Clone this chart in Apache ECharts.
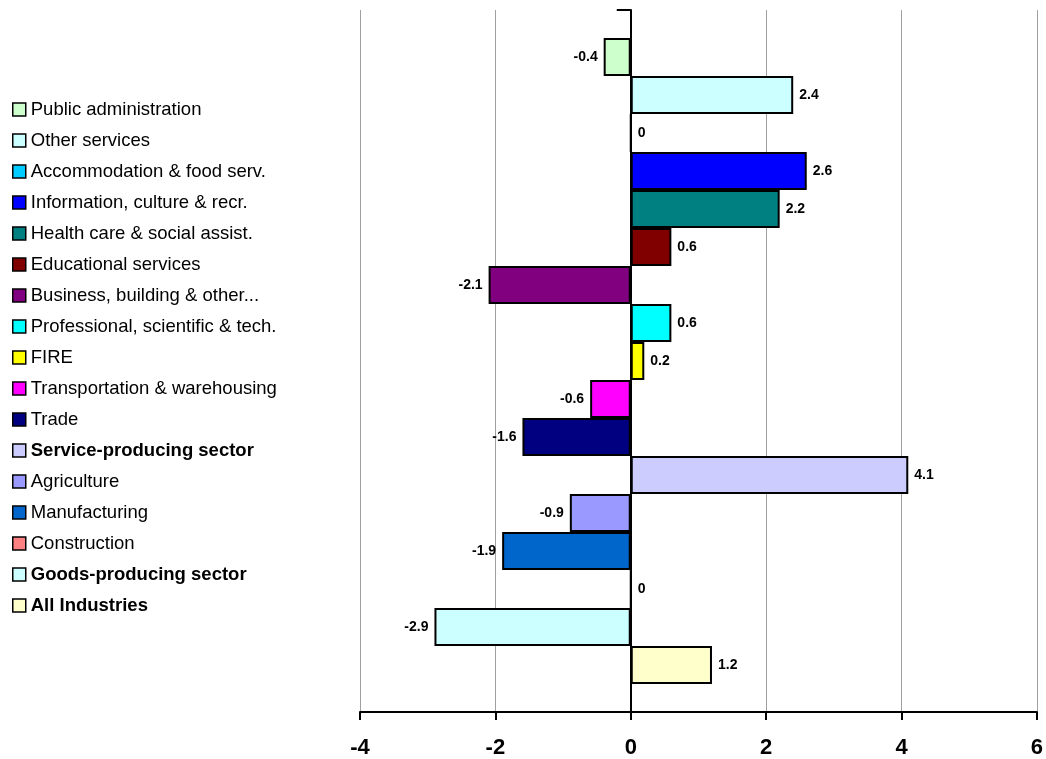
<!DOCTYPE html>
<html>
<head>
<meta charset="utf-8">
<script src="https://cdn.jsdelivr.net/npm/echarts@6/dist/echarts.min.js"></script>
<style>
  html, body { margin: 0; padding: 0; background: #ffffff; }
  #chart { width: 1046px; height: 759px; }
</style>
</head>
<body>
<div id="chart"></div>
<script>
// Employment change by industry (%), one bar per industry
const industries = [
  'Public administration',
  'Other services',
  'Accommodation & food serv.',
  'Information, culture & recr.',
  'Health care & social assist.',
  'Educational services',
  'Business, building & other...',
  'Professional, scientific & tech.',
  'FIRE',
  'Transportation & warehousing',
  'Trade',
  'Service-producing sector',
  'Agriculture',
  'Manufacturing',
  'Construction',
  'Goods-producing sector',
  'All Industries'
];
const changes = [-0.4, 2.4, 0, 2.6, 2.2, 0.6, -2.1, 0.6, 0.2, -0.6, -1.6, 4.1, -0.9, -1.9, 0, -2.9, 1.2];
const colors = [
  '#CCFFCC', '#CCFFFF', '#00CCFF', '#0000FF', '#008080', '#800000', '#800080',
  '#00FFFF', '#FFFF00', '#FF00FF', '#000080', '#CCCCFF', '#9999FF', '#0066CC',
  '#FF8080', '#CCFFFF', '#FFFFCC'
];
const boldNames = ['Service-producing sector', 'Goods-producing sector', 'All Industries'];
const xTicks = { min: -4, max: 6, interval: 2 };

const FONT = 'Arial, "Liberation Sans", sans-serif';

const series = industries.map((name, i) => ({
  name: name,
  type: 'bar',
  data: [changes[i]],
  barGap: '0%',
  barCategoryGap: '8%',
  itemStyle: { color: colors[i], borderColor: '#000000', borderWidth: 2 },
  label: {
    show: true,
    position: changes[i] < 0 ? 'left' : 'right',
    distance: 6,
    color: '#000000',
    fontFamily: FONT,
    fontWeight: 'bold',
    fontSize: 14,
    formatter: p => String(p.value)
  }
}));

const chart = echarts.init(document.getElementById('chart'), null, { renderer: 'canvas' });
chart.setOption({
  animation: false,
  backgroundColor: '#ffffff',
  color: colors,
  legend: {
    orient: 'vertical',
    left: 12,
    top: 100,
    padding: 0,
    icon: 'rect',
    itemWidth: 13,
    itemHeight: 13,
    itemGap: 12,
    selectedMode: false,
    itemStyle: { borderColor: '#000000', borderWidth: 1.5 },
    textStyle: { fontFamily: FONT, fontSize: 18.5, color: '#000000', lineHeight: 19 },
    data: industries.map(n => boldNames.includes(n)
      ? { name: n, textStyle: { fontWeight: 'bold' } }
      : { name: n })
  },
  grid: { left: 360, right: 9, top: 10, bottom: 45, containLabel: false },
  xAxis: {
    type: 'value',
    min: xTicks.min,
    max: xTicks.max,
    interval: xTicks.interval,
    axisLine: { show: true, lineStyle: { color: '#000000', width: 2 } },
    axisTick: { show: true, length: 8, lineStyle: { color: '#000000', width: 2 } },
    axisLabel: {
      margin: 25,
      fontFamily: FONT,
      fontWeight: 'bold',
      fontSize: 22,
      color: '#000000'
    },
    splitLine: { show: true, lineStyle: { color: '#A0A0A0', width: 1 } }
  },
  yAxis: {
    type: 'category',
    data: [''],
    inverse: true,
    axisLine: { show: true, onZero: true, lineStyle: { color: '#000000', width: 2 } },
    axisTick: { show: true, length: 14, lineStyle: { color: '#000000', width: 2 } },
    axisLabel: { show: false },
    splitLine: { show: false }
  },
  series: series
});
</script>
</body>
</html>
